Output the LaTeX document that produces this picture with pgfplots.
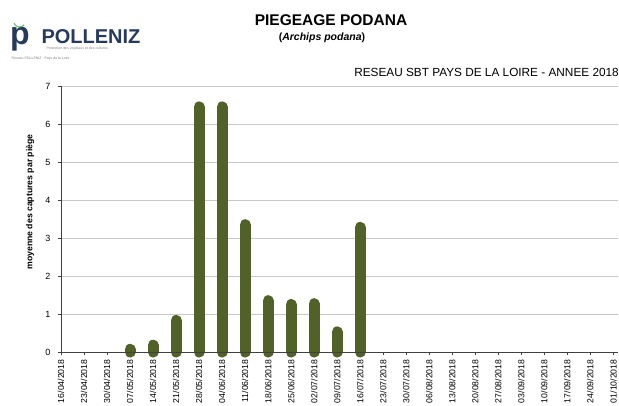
\documentclass[border=0pt]{standalone}
\usepackage{pgfplots}
\pgfplotsset{compat=1.18}
\usepackage{fontspec}
\setmainfont{Liberation Sans}
\definecolor{bargreen}{RGB}{80,98,40}
\definecolor{navy}{RGB}{38,58,92}
\definecolor{gridgray}{RGB}{200,200,200}
\begin{document}
\begin{tikzpicture}[x=1pt,y=1pt]
\useasboundingbox (-61,-53) rectangle (558,352);
\begin{axis}[
  at={(0,0)}, anchor=south west,
  scale only axis, width=557pt, height=266pt,
  xmin=0, xmax=24.2, ymin=0, ymax=7,
  axis x line*=bottom, axis y line*=left,
  axis line style={black!75, line width=0.8pt},
  xtick={0,...,24},
  xticklabels={16/04/2018,23/04/2018,30/04/2018,07/05/2018,14/05/2018,21/05/2018,28/05/2018,04/06/2018,11/06/2018,18/06/2018,25/06/2018,02/07/2018,09/07/2018,16/07/2018,23/07/2018,30/07/2018,06/08/2018,13/08/2018,20/08/2018,27/08/2018,03/09/2018,10/09/2018,17/09/2018,24/09/2018,01/10/2018},
  xticklabel style={rotate=90, anchor=east, font=\fontsize{8.7}{9}\selectfont, xshift=-1pt},
  ytick={0,...,7},
  yticklabel style={font=\fontsize{9}{9}\selectfont, xshift=-4pt},
  /pgf/number format/assume math mode=true,
  tick align=outside, major tick length=3pt,
  tick style={black!75, line width=0.6pt},
  ymajorgrids, grid style={gridgray, line width=0.8pt},
  clip=false,
]
\addplot[ycomb, bargreen, line width=11pt, line cap=round] coordinates {
(3,0.07) (4,0.18) (5,0.83) (6,6.45) (7,6.45) (8,3.35) (9,1.35) (10,1.25) (11,1.27) (12,0.53) (13,3.28)
};
\addplot[black!75, line width=0.8pt] coordinates {(0,0) (24.2,0)};
\end{axis}
\node[rotate=90, font=\bfseries\fontsize{8.7}{9}\selectfont] at (-31,150) {moyenne des captures par piège};
% logo
\node[navy, font=\bfseries\fontsize{32}{32}\selectfont] at (-41,313) {p};
\draw[green!50!black!60, line width=1pt] (-47,329) arc (200:320:6);
\node[navy, font=\bfseries\fontsize{20}{20}\selectfont, anchor=west] at (-23,315) {POLLENIZ};
\node[gray, font=\fontsize{3.5}{4}\selectfont, anchor=west] at (-18,303) {Protection des végétaux et des cultures};
\node[gray, font=\fontsize{3.5}{4}\selectfont, anchor=west] at (-53,293) {Réseau POLLENIZ - Pays de la Loire};
% titles
\node[font=\bfseries\fontsize{15.5}{16}\selectfont] at (270,332) {PIEGEAGE PODANA};
\node[font=\bfseries\fontsize{10.5}{11}\selectfont] at (261,314) {(\textit{Archips podana})};
\node[font=\fontsize{11.8}{12}\selectfont, anchor=east, inner sep=0pt] at (558,280) {RESEAU SBT PAYS DE LA LOIRE - ANNEE 2018};
\end{tikzpicture}
\end{document}
